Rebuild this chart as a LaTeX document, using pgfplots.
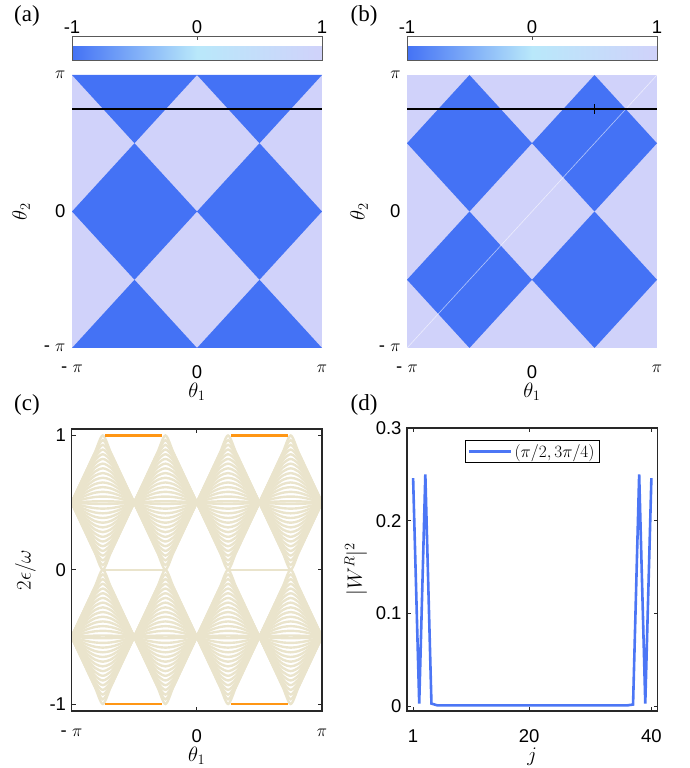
\documentclass[border=0pt]{standalone}
\usepackage{pgfplots}
\pgfplotsset{compat=1.18}
\usepackage{pgfplotstable}
\usepackage{fontspec}
\setmainfont{Liberation Serif}
\setsansfont{Liberation Sans}

\definecolor{cblue}{RGB}{68,114,245}
\definecolor{clav}{RGB}{208,210,250}
\definecolor{cband}{RGB}{234,228,204}
\definecolor{corange}{RGB}{255,150,20}
\definecolor{cline}{RGB}{76,118,245}
\definecolor{cframe}{RGB}{40,40,40}

\newcommand\tickfont{\fontsize{18.5}{21}\selectfont\sffamily}
\newcommand\labfont{\fontsize{20}{23}\selectfont}
\newcommand\panelfont{\fontsize{23}{26}\selectfont}
\newcommand\legfont{\fontsize{18.5}{21}\selectfont}

\pgfplotsset{
  colormap={mymap}{rgb255=(68,114,245) rgb255=(185,232,250) rgb255=(208,210,250)},
  mapax/.style={
    scale only axis, width=250pt, height=273pt,
    xmin=-1, xmax=1, ymin=-1, ymax=1, clip mode=individual,
    axis background/.style={fill=clav},
    axis line style={draw=none}, major tick length=0pt,
    xtick={-1,0,1}, ytick={-1,0,1},
    xticklabels={{-\ $\pi$},0,$\pi$},
    yticklabels={{-\ $\pi$},0,$\pi$},
    ticklabel style={font=\tickfont},
    xticklabel style={yshift=-14pt},
    yticklabel style={xshift=-3pt},
    colormap name=mymap, point meta min=-1, point meta max=1,
    colorbar horizontal,
    colorbar style={at={(parent axis.north)}, anchor=south, yshift=23.3pt,
      scale only axis, width=250pt, height=23.4pt,
      xtick={-1,0,1}, xticklabels={-1,0,1}, xticklabel pos=right, xtick pos=right,
      tick align=inside, major tick length=3pt,
      tick style={draw=black!70},
      axis line style={draw=black!65, line width=0.8pt},
      ticklabel style={font=\tickfont}, ytick=\empty},
  },
  panel/.style={
    scale only axis, clip mode=individual,
    axis line style={cframe, line width=1.2pt},
    tick style={cframe, line width=1pt},
    major tick length=4pt, tick align=inside,
    ticklabel style={font=\tickfont},
    xticklabel style={yshift=-15pt},
    yticklabel style={xshift=-2pt},
  },
  bandline/.style={cband, line width=2.4pt, smooth},
}

\pgfplotstableread{
x d1 d2 d3 d4 d5 d6 d7 d8 d9 d10 d11 d12 d13 d14 d15
0 0 0 0 0 0 0 0 0 0 0 0 0 0 0 0
0.0625 0.125 0.1242 0.1218 0.1179 0.1126 0.1058 0.0978 0.0886 0.0784 0.0674 0.0556 0.0432 0.0303 0.0172 0.0038
0.125 0.25 0.2481 0.2424 0.2333 0.2210 0.2060 0.1887 0.1695 0.1488 0.1269 0.1040 0.0804 0.0563 0.0318 0.0071
0.1875 0.375 0.3704 0.3576 0.3385 0.3151 0.2888 0.2605 0.2309 0.2004 0.1693 0.1378 0.1059 0.0738 0.0416 0.0092
0.25 0.5 0.465 0.43 0.395 0.36 0.325 0.29 0.255 0.22 0.185 0.15 0.115 0.08 0.045 0.01
0.3125 0.375 0.3704 0.3576 0.3385 0.3151 0.2888 0.2605 0.2309 0.2004 0.1693 0.1378 0.1059 0.0738 0.0416 0.0092
0.375 0.25 0.2481 0.2424 0.2333 0.2210 0.2060 0.1887 0.1695 0.1488 0.1269 0.1040 0.0804 0.0563 0.0318 0.0071
0.4375 0.125 0.1242 0.1218 0.1179 0.1126 0.1058 0.0978 0.0886 0.0784 0.0674 0.0556 0.0432 0.0303 0.0172 0.0038
0.5 0 0 0 0 0 0 0 0 0 0 0 0 0 0 0
}\bandtab

\begin{document}
\begin{tikzpicture}
\path[use as bounding box] (0,0) rectangle (689pt,768pt);

% (a)
\begin{axis}[mapax, at={(72pt,420pt)}, anchor=south west]
\addplot[fill=cblue, draw=none] coordinates {(-1,0) (-0.5,0.5) (0,0) (-0.5,-0.5)} -- cycle;
\addplot[fill=cblue, draw=none] coordinates {(0,0) (0.5,0.5) (1,0) (0.5,-0.5)} -- cycle;
\addplot[fill=cblue, draw=none] coordinates {(-1,1) (0,1) (-0.5,0.5)} -- cycle;
\addplot[fill=cblue, draw=none] coordinates {(0,1) (1,1) (0.5,0.5)} -- cycle;
\addplot[fill=cblue, draw=none] coordinates {(-1,-1) (0,-1) (-0.5,-0.5)} -- cycle;
\addplot[fill=cblue, draw=none] coordinates {(0,-1) (1,-1) (0.5,-0.5)} -- cycle;
\addplot[black, line width=1.4pt] coordinates {(-1,0.75) (1,0.75)};
\node[font=\labfont] at (axis description cs:0.5,-0.162) {$\theta_1$};
\node[font=\labfont, rotate=90] at (axis description cs:-0.204,0.5) {$\theta_2$};
\end{axis}

% (b)
\begin{axis}[mapax, at={(407pt,420pt)}, anchor=south west]
\addplot[fill=cblue, draw=none] coordinates {(-1,0.5) (-0.5,1) (0,0.5) (-0.5,0)} -- cycle;
\addplot[fill=cblue, draw=none] coordinates {(0,0.5) (0.5,1) (1,0.5) (0.5,0)} -- cycle;
\addplot[fill=cblue, draw=none] coordinates {(-1,-0.5) (-0.5,0) (0,-0.5) (-0.5,-1)} -- cycle;
\addplot[fill=cblue, draw=none] coordinates {(0,-0.5) (0.5,0) (1,-0.5) (0.5,-1)} -- cycle;
\addplot[white, opacity=0.6, line width=0.6pt] coordinates {(-1,-1) (1,1)};
\addplot[black, line width=1.4pt] coordinates {(-1,0.75) (1,0.75)};
\addplot[black, line width=1.4pt] coordinates {(0.5,0.715) (0.5,0.785)};
\node[font=\labfont] at (axis description cs:0.5,-0.162) {$\theta_1$};
\node[font=\labfont, rotate=90] at (axis description cs:-0.192,0.5) {$\theta_2$};
\end{axis}

% (c)
\begin{axis}[panel, at={(71.5pt,57pt)}, anchor=south west,
  width=250.5pt, height=282pt, axis on top,
  xmin=-1, xmax=1, ymin=-1.052, ymax=1.048,
  xtick={-1,0,1}, xticklabels={{-\ $\pi$},0,$\pi$},
  ytick={-1,0,1}, yticklabels={-1,0,1}]
\foreach \k in {1,...,15}{
  \foreach \sx in {-1,-0.5,0,0.5}{
    \addplot[bandline] table[x expr=\thisrow{x}+(\sx), y expr=0.5+\thisrow{d\k}] {\bandtab};
    \addplot[bandline] table[x expr=\thisrow{x}+(\sx), y expr=0.5-\thisrow{d\k}] {\bandtab};
    \addplot[bandline] table[x expr=\thisrow{x}+(\sx), y expr=-0.5+\thisrow{d\k}] {\bandtab};
    \addplot[bandline] table[x expr=\thisrow{x}+(\sx), y expr=-0.5-\thisrow{d\k}] {\bandtab};
  }
}
\addplot[cband, line width=2.4pt] coordinates {(-0.75,0) (-0.26,0)};
\addplot[cband, line width=2.4pt] coordinates {(0.26,0) (0.75,0)};
\addplot[corange, line width=2.6pt] coordinates {(-0.733,1) (-0.275,1)};
\addplot[corange, line width=2.6pt] coordinates {(0.273,1) (0.731,1)};
\addplot[corange, line width=2.6pt] coordinates {(-0.733,-1) (-0.275,-1)};
\addplot[corange, line width=2.6pt] coordinates {(0.273,-1) (0.731,-1)};
\node[font=\labfont] at (axis description cs:0.5,-0.16) {$\theta_1$};
\node[font=\labfont, rotate=90] at (axis description cs:-0.184,0.5) {$2\epsilon/\omega$};
\end{axis}

% (d)
\begin{axis}[panel, at={(407pt,57pt)}, anchor=south west,
  width=250.5pt, height=283pt,
  xmin=0, xmax=41, ymin=-0.005, ymax=0.3,
  xtick={1,20,40}, xticklabels={1,20,40},
  ytick={0,0.1,0.2,0.3}, yticklabels={0,0.1,0.2,0.3},
  legend style={at={(0.5,0.958)}, anchor=north, draw=black, line width=1pt,
    font=\legfont, inner xsep=3pt, inner ysep=2pt},
  legend image code/.code={\draw[#1] (0pt,0pt) -- (42pt,0pt);}]
\addplot[cline, line width=2.6pt] coordinates {
(1,0.246) (2,0.003) (3,0.25) (4,0.003) (5,0.001) (6,0.001) (7,0.001) (8,0.001)
(9,0.001) (10,0.001) (11,0.001) (12,0.001) (13,0.001) (14,0.001) (15,0.001)
(16,0.001) (17,0.001) (18,0.001) (19,0.001) (20,0.001) (21,0.001) (22,0.001)
(23,0.001) (24,0.001) (25,0.001) (26,0.001) (27,0.001) (28,0.001) (29,0.001)
(30,0.001) (31,0.001) (32,0.001) (33,0.001) (34,0.001) (35,0.001) (36,0.001)
(37,0.002) (38,0.25) (39,0.003) (40,0.246)};
\addlegendentry{$(\pi/2,3\pi/4)$}
\node[font=\labfont] at (axis description cs:0.5,-0.16) {$j$};
\node[font=\labfont, rotate=90] at (axis description cs:-0.204,0.5) {$|W^R|^2$};
\end{axis}

\node[font=\panelfont] at (27pt,752pt) {(a)};
\node[font=\panelfont] at (364pt,752pt) {(b)};
\node[font=\panelfont] at (27pt,363pt) {(c)};
\node[font=\panelfont] at (364pt,363pt) {(d)};
\end{tikzpicture}
\end{document}
